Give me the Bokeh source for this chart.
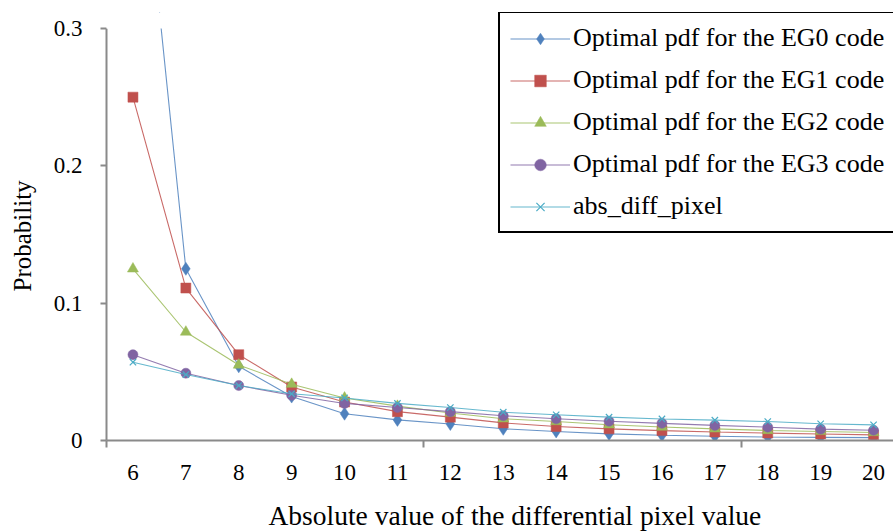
from bokeh.plotting import figure
from bokeh.models import Range1d, FixedTicker, Title, BoxAnnotation
from bokeh.embed import file_html
from bokeh.resources import INLINE

# ---- data ----
pixel_values = [6, 7, 8, 9, 10, 11, 12, 13, 14, 15, 16, 17, 18, 19, 20]
eg0_pdf = [0.5, 0.125, 0.054, 0.032, 0.0195, 0.015, 0.012, 0.0085, 0.0066, 0.0048, 0.0038, 0.0031, 0.0025, 0.0023, 0.0021]
eg1_pdf = [0.25, 0.111, 0.0625, 0.039, 0.028, 0.021, 0.017, 0.0128, 0.0102, 0.0085, 0.0072, 0.0062, 0.0054, 0.0047, 0.0041]
eg2_pdf = [0.125, 0.079, 0.055, 0.041, 0.031, 0.025, 0.020, 0.0158, 0.0138, 0.0115, 0.0098, 0.0085, 0.0073, 0.0066, 0.0058]
eg3_pdf = [0.0625, 0.049, 0.040, 0.033, 0.027, 0.024, 0.021, 0.018, 0.0158, 0.014, 0.0125, 0.011, 0.0097, 0.0083, 0.0075]
abs_diff_pixel = [0.057, 0.048, 0.040, 0.034, 0.031, 0.027, 0.024, 0.0206, 0.0187, 0.017, 0.0157, 0.0148, 0.0138, 0.0122, 0.0114]

series_names = ["Optimal pdf for the EG0 code", "Optimal pdf for the EG1 code",
                "Optimal pdf for the EG2 code", "Optimal pdf for the EG3 code",
                "abs_diff_pixel"]
y_ticks = [0, 0.1, 0.2, 0.3]
y_max = 0.3
x_title = "Absolute value of the differential pixel value"
y_title = "Probability"

FONT = "Liberation Serif"
AXIS_COLOR = "#8a8a8a"

p = figure(frame_width=787, frame_height=428, output_backend="svg",
           toolbar_location=None,
           x_range=Range1d(5.5, 20.377), y_range=Range1d(0, 0.31165),
           min_border_left=106, min_border_right=0, min_border_top=12,
           min_border_bottom=92)
p.outline_line_color = None
p.grid.visible = False
p.background_fill_color = "white"

styles = [
    dict(color="#4F81BD", marker="diamond", size=13, lw=0.5),
    dict(color="#C0504D", marker="square", size=10, lw=0.5),
    dict(color="#9BBB59", marker="triangle", size=11, lw=0.5),
    dict(color="#8064A2", marker="circle", size=10, lw=0.5),
    dict(color="#4BACC6", marker="x", size=9, lw=1.2),
]
all_series = [eg0_pdf, eg1_pdf, eg2_pdf, eg3_pdf, abs_diff_pixel]

for name, ys, st in zip(series_names, all_series, styles):
    p.line(pixel_values, ys, line_color=st["color"], line_width=1.1,
           line_alpha=0.85, legend_label=name)
    p.scatter(pixel_values, ys, marker=st["marker"], size=st["size"],
              fill_color=st["color"], line_color=st["color"],
              line_width=st["lw"], legend_label=name)

# white band above the top of the value axis (the chart is clipped at 0.3)
p.add_layout(BoxAnnotation(bottom=y_max, fill_color="white", fill_alpha=1,
                           line_alpha=0, level="guide"))

# x axis
xa = p.xaxis[0]
xa.ticker = FixedTicker(ticks=pixel_values, minor_ticks=[5.5, 11.5, 17.5])
xa.major_tick_out = 0
xa.major_tick_in = 0
xa.minor_tick_out = 7
xa.minor_tick_in = 0
xa.minor_tick_line_color = AXIS_COLOR
xa.minor_tick_line_width = 2
xa.axis_line_color = AXIS_COLOR
xa.axis_line_width = 2
xa.major_label_text_font = FONT
xa.major_label_text_font_size = "23px"
xa.major_label_text_color = "black"
xa.major_label_standoff = 17

# y axis
ya = p.yaxis[0]
ya.ticker = FixedTicker(ticks=y_ticks, minor_ticks=[])
ya.bounds = (0, y_max)
ya.major_label_overrides = {0: "0"}
ya.major_tick_out = 6
ya.major_tick_in = 0
ya.major_tick_line_color = AXIS_COLOR
ya.major_tick_line_width = 2
ya.axis_line_color = AXIS_COLOR
ya.axis_line_width = 2
ya.major_label_text_font = FONT
ya.major_label_text_font_size = "23px"
ya.major_label_text_color = "black"
ya.major_label_standoff = 18

# empty spacer titles: gaps between tick labels and axis titles
p.add_layout(Title(text=" ", text_font_size="1px", standoff=14), "below")
p.add_layout(Title(text=" ", text_font_size="1px", standoff=12), "left")

# axis titles
p.add_layout(Title(text=x_title, align="left", offset=162, text_font=FONT,
                   text_font_size="27.5px", text_font_style="normal",
                   text_color="black", standoff=0, vertical_align="top"),
             "below")
p.add_layout(Title(text=y_title, align="left", offset=149, text_font=FONT,
                   text_font_size="25px", text_font_style="normal",
                   text_color="black", standoff=0, vertical_align="bottom"),
             "left")

# legend
leg = p.legend[0]
leg.location = (392, 207)
leg.border_line_color = "black"
leg.border_line_width = 2
leg.border_line_alpha = 1
leg.padding = 10
leg.spacing = 12
leg.margin = 0
leg.label_height = 29
leg.glyph_height = 29
leg.glyph_width = 60
leg.label_standoff = 3
leg.label_text_font = FONT
leg.label_text_font_size = "26px"
leg.label_text_color = "black"
leg.background_fill_color = "white"
leg.background_fill_alpha = 1

open("out.html", "w").write(file_html(p, INLINE))
